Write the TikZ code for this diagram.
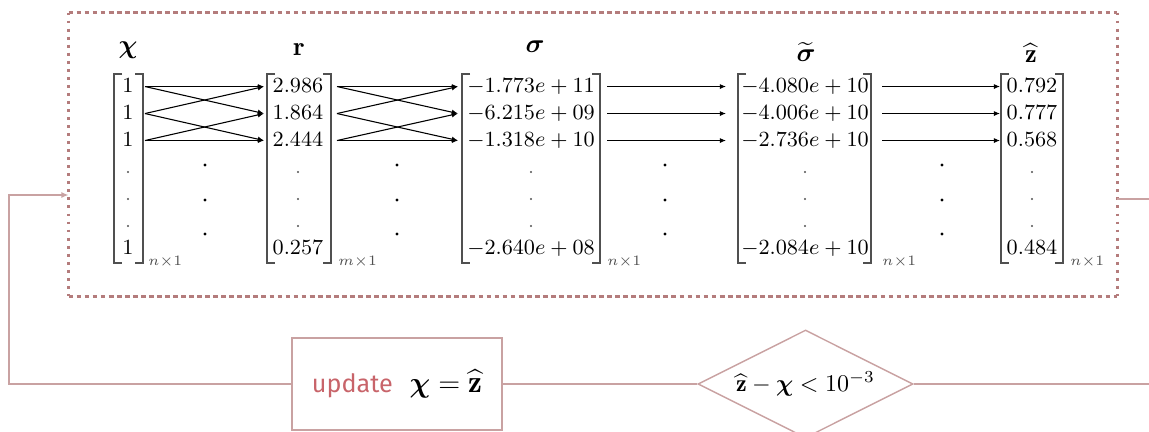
\documentclass[tikz,border=0pt]{standalone}
\usepackage{amsmath}
\usepackage{fontspec}
\setsansfont{Fira Sans}
\usepackage{tikz}
\usetikzlibrary{arrows.meta,positioning,shapes.geometric}
\definecolor{loopline}{HTML}{C9A2A2}
\definecolor{framered}{HTML}{B47C7C}
\definecolor{updatered}{HTML}{C8646A}
\definecolor{bracketgray}{HTML}{505050}

\begin{document}
\begin{tikzpicture}[
  x=0.4167pt, y=-0.4167pt,
  entry/.style={anchor=base,inner sep=1pt,font=\small,text height=1.5ex,text depth=.25ex},
  head/.style={anchor=base,inner sep=1pt,font=\fontsize{11}{13}\selectfont},
  dims/.style={anchor=base west,inner sep=0pt,font=\fontsize{6}{7}\selectfont,text=bracketgray},
  brk/.style={draw=bracketgray,line width=0.6pt},
  arr/.style={-{Latex[length=2.6pt,width=2.2pt]},line width=0.45pt},
  link/.style={draw=loopline,line width=0.6pt},
  hdash/.style={draw=framered,line width=0.9pt,dash pattern=on 2pt off 1.35pt},
  vdash/.style={draw=framered,line width=0.9pt,dash pattern=on 1.2pt off 2.15pt},
  upbox/.style={draw=loopline,line width=0.6pt,minimum width=87.5pt,minimum height=38.3pt,inner sep=0pt},
  check/.style={diamond,draw=loopline,line width=0.6pt,aspect=2,minimum width=89.6pt,minimum height=45pt,inner sep=0pt}
]
\useasboundingbox (0,0) rectangle (1149,432);

\node[minimum width=436.7pt,minimum height=117.9pt,inner sep=0pt] (frame) at (593,154.5) {};
\draw[hdash] (frame.north west) -- (frame.north east) (frame.south west) -- (frame.south east);
\draw[vdash] (frame.north west) -- (frame.south west) (frame.north east) -- (frame.south east);

\node[head] (chiH) at (128,54) {$\boldsymbol{\chi}$};
\node[head] (rH) at (299,56) {$\mathbf{r}$};
\node[head] (sigH) at (535,53) {$\boldsymbol{\sigma}$};
\node[head] (sigtH) at (806,62) {$\widetilde{\boldsymbol{\sigma}}$};
\node[head] (zhH) at (1031,63) {$\widehat{\mathbf{z}}$};

\foreach \col/\x/\va/\vb/\vc/\vd in {
  chi/128/1/1/1/1,
  r/298/2.986/1.864/2.444/0.257,
  sig/531/-1.773e+11/-6.215e+09/-1.318e+10/-2.640e+08,
  sigt/805/-4.080e+10/-4.006e+10/-2.736e+10/-2.084e+10,
  zh/1032/0.792/0.777/0.568/0.484}{
  \node[entry] (\col1) at (\x,93) {$\va$};
  \node[entry] (\col2) at (\x,120) {$\vb$};
  \node[entry] (\col3) at (\x,147) {$\vc$};
  \foreach \y in {172,199,226} \fill[bracketgray] (\x,\y) circle[radius=0.5pt];
  \node[entry] (\col7) at (\x,255) {$\vd$};
}

\foreach \l/\r in {114/143,267/331,462/600,738/871,1001/1063} {
  \draw[brk] (\l+8,74) -| (\l,263) -- (\l+8,263);
  \draw[brk] (\r-8,74) -| (\r,263) -- (\r-8,263);
}

\foreach \col/\x/\d in {chi/148/n,r/338/m,sig/607/n,sigt/882/n,zh/1070/n}
  \node[dims] (\col dim) at (\x,266) {$\d{\times}1$};

\coordinate (chiOut) at (145,0);
\coordinate (rIn) at (264,0);
\coordinate (rOut) at (337,0);
\coordinate (sigIn) at (458,0);
\coordinate (sigOut) at (607,0);
\coordinate (sigtIn) at (726,0);
\coordinate (sigtOut) at (882,0);
\coordinate (zhIn) at (1000,0);

\foreach \s/\t in {1/1,1/2,2/1,2/3,3/2,3/3} {
  \draw[arr] (chi\s -| chiOut) -- (r\t -| rIn);
  \draw[arr] (r\s -| rOut) -- (sig\t -| sigIn);
}
\foreach \s in {1,2,3} {
  \draw[arr] (sig\s -| sigOut) -- (sigt\s -| sigtIn);
  \draw[arr] (sigt\s -| sigtOut) -- (zh\s -| zhIn);
}

\foreach \x in {205,397,665,942}
  \foreach \y in {165,200,234} \fill (\x,\y) circle[radius=0.7pt];

\node[upbox] (upd) at (397,384) {{\sffamily\color{updatered}\fontsize{10.5}{12}\selectfont update}\hspace{7pt}{\fontsize{13}{15}\selectfont$\boldsymbol{\chi}=\widehat{\mathbf{z}}$}};
\node[check] (chk) at (805.5,384) {$\widehat{\mathbf{z}}-\boldsymbol{\chi}<10^{-3}$};

\coordinate (loopL) at (9,195);
\coordinate (exitR) at (1149,199);
\draw[link,-{Latex[length=3pt,width=2.6pt]}] (upd.west) -| (loopL) -- (loopL -| frame.west);
\draw[link] (upd.east) -- (chk.west);
\draw[link] (chk.east) -- (chk.east -| exitR);
\draw[link] (exitR -| frame.east) -- (exitR);
\end{tikzpicture}
\end{document}
